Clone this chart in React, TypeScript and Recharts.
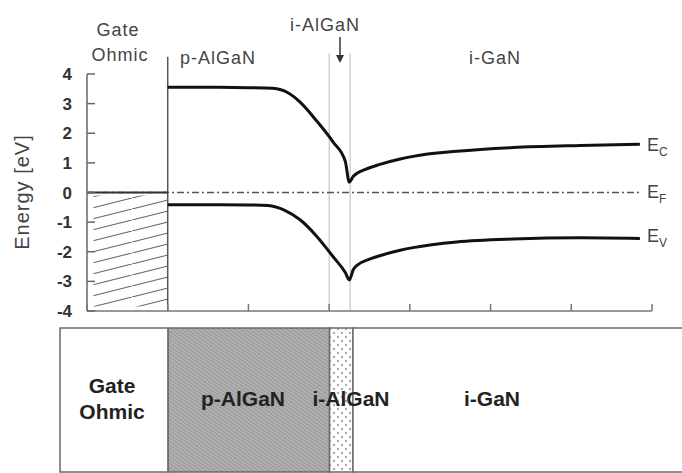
import React from "react";
import {
  LineChart,
  Line,
  XAxis,
  YAxis,
  ReferenceLine,
  ReferenceArea,
  BarChart,
  Bar,
} from "recharts";

// position along the structure (arb. units) and band energies [eV]
const ecPos = [1.0, 1.5, 2.0, 2.3, 2.5, 2.64, 2.85, 3.05, 3.2, 3.25, 3.3, 3.45, 3.63, 3.88, 4.04, 4.58, 5.28, 6.11, 6.85];
const ecEnergy = [3.55, 3.55, 3.54, 3.52, 3.35, 3.05, 2.4, 1.7, 1.05, 0.35, 0.55, 0.78, 0.95, 1.13, 1.22, 1.39, 1.52, 1.59, 1.63];
const evPos = [1.0, 1.5, 2.0, 2.24, 2.45, 2.64, 2.85, 3.05, 3.2, 3.25, 3.3, 3.35, 3.5, 3.67, 3.88, 4.04, 4.58, 5.28, 6.11, 6.85];
const evEnergy = [-0.41, -0.41, -0.42, -0.44, -0.6, -0.92, -1.49, -2.17, -2.7, -2.95, -2.6, -2.45, -2.25, -2.1, -1.95, -1.86, -1.67, -1.57, -1.53, -1.55];
const efPos = [0, 6.85];
const efEnergy = [0, 0];
const gatePos = [0, 1];
const gateEnergy = [0, 0];

const yTicks = [-4, -3, -2, -1, 0, 1, 2, 3, 4];
const xTicks = [0, 1, 2, 3, 4, 5, 6, 7];

// layer stack below the diagram
const layerKeys = ["gate", "pAlGaN", "iAlGaN", "iGaN"];
const layerThickness = [1.34, 2.0, 0.29, 4.3];
const layerFills = ["#ffffff", "url(#pHatch)", "url(#dots)", "#ffffff"];

const zip = (xs: number[], ys: number[]) => xs.map((x, i) => ({ x, e: ys[i] }));
const ecData = zip(ecPos, ecEnergy);
const evData = zip(evPos, evEnergy);
const efData = zip(efPos, efEnergy);
const gateData = zip(gatePos, gateEnergy);

const layerRow: Record<string, number | string> = { name: "stack" };
layerKeys.forEach((k, i) => (layerRow[k] = layerThickness[i]));
const layerTotal = layerThickness.reduce((a, b) => a + b, 0);

const font = "'Liberation Sans', Arial, sans-serif";

const YTick = (props: any) => {
  const { x, y, payload } = props;
  return (
    <g>
      <line x1={x + 15} x2={x + 23} y1={y} y2={y} stroke="#666" strokeWidth={1.5} />
      <text x={x} y={y} dy={6} textAnchor="end" fontSize={17} fontWeight={600} fill="#333" fontFamily={font}>
        {payload.value}
      </text>
    </g>
  );
};

const XTick = (props: any) => {
  const { x, y } = props;
  return <line x1={x} x2={x} y1={y} y2={y - 7} stroke="#777" strokeWidth={1.5} />;
};

const Label = ({ x, y, children, size = 18, bold = false, spacing = 1 }: any) => (
  <div
    style={{
      position: "absolute",
      left: x,
      top: y,
      transform: "translate(-50%, -50%)",
      fontFamily: font,
      fontSize: size,
      fontWeight: bold ? 700 : 400,
      letterSpacing: spacing,
      color: bold ? "#222" : "#444",
      whiteSpace: "nowrap",
      lineHeight: 1,
    }}
  >
    {children}
  </div>
);

const ELabel = ({ y, sub }: any) => (
  <div
    style={{
      position: "absolute",
      left: 647,
      top: y,
      transform: "translateY(-50%)",
      fontFamily: font,
      fontSize: 18,
      color: "#444",
      lineHeight: 1,
    }}
  >
    E<sub style={{ fontSize: 12 }}>{sub}</sub>
  </div>
);

export default function App() {
  return (
    <div
      style={{
        position: "absolute",
        left: 0,
        top: 0,
        width: 682,
        height: 473,
        background: "#fff",
        overflow: "hidden",
      }}
    >
      <svg width={0} height={0} style={{ position: "absolute" }}>
        <defs>
          <pattern id="hatch" patternUnits="userSpaceOnUse" width={44} height={11}>
            <line x1={0} y1={11} x2={44} y2={0} stroke="#666" strokeWidth={1.1} />
          </pattern>
          <pattern id="pHatch" patternUnits="userSpaceOnUse" width={3} height={3} patternTransform="rotate(-55)">
            <rect width={3} height={3} fill="#b0b0b0" />
            <line x1={0} y1={0} x2={0} y2={3} stroke="#888" strokeWidth={1.2} />
          </pattern>
          <pattern id="dots" patternUnits="userSpaceOnUse" width={8} height={8}>
            <rect width={8} height={8} fill="#fff" />
            <circle cx={2} cy={2} r={1.2} fill="#aaa" />
            <circle cx={6} cy={6} r={1.2} fill="#aaa" />
          </pattern>
        </defs>
      </svg>

      <div style={{ position: "absolute", left: 0, top: 0 }}>
        <LineChart width={682} height={340} margin={{ top: 74, right: 30, left: 47, bottom: 19 }}>
          <XAxis
            type="number"
            dataKey="x"
            domain={[0, 7]}
            ticks={xTicks}
            allowDataOverflow
            height={10}
            tickSize={0}
            tickMargin={0}
            tickLine={false}
            tick={<XTick />}
            axisLine={{ stroke: "#777", strokeWidth: 1.5 }}
          />
          <YAxis
            type="number"
            dataKey="e"
            domain={[-4, 4]}
            ticks={yTicks}
            width={40}
            tickSize={0}
            tickMargin={15}
            tickLine={false}
            tick={<YTick />}
            axisLine={{ stroke: "#666", strokeWidth: 1.5 }}
          />
          <ReferenceArea x1={0.08} x2={1} y1={-3.85} y2={-0.1} fill="url(#hatch)" fillOpacity={1} stroke="none" />
          <ReferenceLine
            segment={[{ x: 1, y: -4 }, { x: 1, y: 4.58 }]}
            ifOverflow="visible"
            stroke="#555"
            strokeWidth={1.5}
          />
          <ReferenceLine
            segment={[{ x: 3.0, y: -4 }, { x: 3.0, y: 4.7 }]}
            ifOverflow="visible"
            stroke="#bbb"
            strokeWidth={1}
          />
          <ReferenceLine
            segment={[{ x: 3.26, y: -4 }, { x: 3.26, y: 4.7 }]}
            ifOverflow="visible"
            stroke="#bbb"
            strokeWidth={1}
          />
          <Line
            data={efData}
            dataKey="e"
            type="linear"
            stroke="#555"
            strokeWidth={1.5}
            strokeDasharray="7 3 2 3"
            dot={false}
            isAnimationActive={false}
          />
          <Line
            data={gateData}
            dataKey="e"
            type="linear"
            stroke="#333"
            strokeWidth={2}
            dot={false}
            isAnimationActive={false}
          />
          <Line
            data={ecData}
            dataKey="e"
            type="monotone"
            stroke="#111"
            strokeWidth={3}
            dot={false}
            isAnimationActive={false}
          />
          <Line
            data={evData}
            dataKey="e"
            type="monotone"
            stroke="#111"
            strokeWidth={3}
            dot={false}
            isAnimationActive={false}
          />
        </LineChart>
      </div>

      <div style={{ position: "absolute", left: 0, top: 327, width: 700 }}>
        <BarChart
          width={700}
          height={147}
          layout="vertical"
          data={[layerRow]}
          barCategoryGap={0}
          margin={{ top: 1, right: 0, left: 60, bottom: 2 }}
        >
          <XAxis type="number" domain={[0, layerTotal]} hide />
          <YAxis type="category" dataKey="name" hide />
          {layerKeys.map((k, i) => (
            <Bar
              key={k}
              dataKey={k}
              stackId="layers"
              fill={layerFills[i]}
              stroke="#6a6a6a"
              strokeWidth={1.5}
              isAnimationActive={false}
            />
          ))}
        </BarChart>
      </div>

      {/* y axis title */}
      <div
        style={{
          position: "absolute",
          left: 22,
          top: 192,
          transform: "translate(-50%, -50%) rotate(-90deg)",
          fontFamily: font,
          fontSize: 20,
          letterSpacing: 1,
          color: "#444",
          whiteSpace: "nowrap",
        }}
      >
        Energy [eV]
      </div>

      {/* region labels above the diagram */}
      <Label x={118} y={30}>Gate</Label>
      <Label x={120} y={55}>Ohmic</Label>
      <Label x={218} y={58}>p-AlGaN</Label>
      <Label x={325} y={25}>i-AlGaN</Label>
      <Label x={495} y={58}>i-GaN</Label>
      <svg width={12} height={30} style={{ position: "absolute", left: 334, top: 37 }}>
        <line x1={6} y1={0} x2={6} y2={20} stroke="#333" strokeWidth={1.5} />
        <path d="M2,18 L10,18 L6,26 Z" fill="#333" />
      </svg>

      <ELabel y={147} sub="C" />
      <ELabel y={194} sub="F" />
      <ELabel y={238} sub="V" />

      {/* layer labels */}
      <Label x={112} y={385} size={21} bold spacing={0}>Gate</Label>
      <Label x={112} y={411} size={21} bold spacing={0}>Ohmic</Label>
      <Label x={243} y={398} size={21} bold spacing={0}>p-AlGaN</Label>
      <Label x={351} y={398} size={21} bold spacing={0}>i-AlGaN</Label>
      <Label x={492} y={398} size={21} bold spacing={0}>i-GaN</Label>
    </div>
  );
}
